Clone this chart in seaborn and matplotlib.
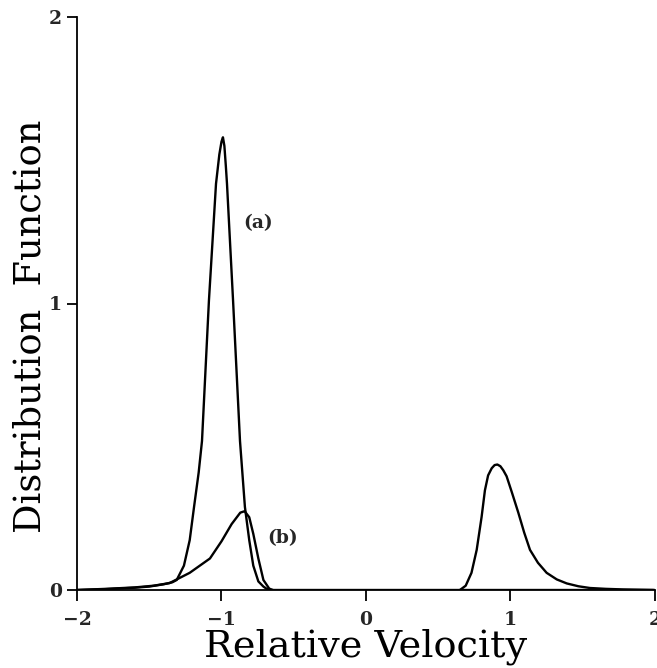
import matplotlib
matplotlib.use("Agg")
import matplotlib.pyplot as plt
import seaborn as sns
import pandas as pd

# Curve (a): narrow peak near -1
a_x = [-2.0, -1.8, -1.6, -1.5, -1.4, -1.34, -1.31, -1.26, -1.22, -1.19, -1.158, -1.135, -1.087, -1.038, -1.015, -1.0, -0.99,
       -0.98, -0.97, -0.962, -0.92, -0.872, -0.838, -0.808, -0.78, -0.745, -0.71, -0.69, -0.66, 2.0]
a_y = [0.0, 0.003, 0.008, 0.012, 0.02, 0.027, 0.035, 0.085, 0.174, 0.29, 0.41, 0.52, 1.01, 1.418, 1.52, 1.565, 1.58,
       1.55, 1.48, 1.418, 1.01, 0.52, 0.29, 0.174, 0.085, 0.03, 0.012, 0.005, 0.0, 0.0]

# Curve (b): broad low peak near -0.84
b_x = [-2.0, -1.8, -1.6, -1.47, -1.36, -1.22, -1.08, -1.0, -0.93, -0.87, -0.84, -0.808, -0.78, -0.745, -0.71, -0.67, -0.645]
b_y = [0.0, 0.004, 0.009, 0.015, 0.024, 0.06, 0.11, 0.17, 0.23, 0.27, 0.275, 0.254, 0.196, 0.11, 0.035, 0.005, 0.0]

# Right peak near +0.9
c_x = [0.65, 0.69, 0.73, 0.766, 0.80, 0.823, 0.845, 0.87, 0.89, 0.909, 0.93, 0.95, 0.973, 1.01, 1.054, 1.095, 1.135,
       1.19, 1.25, 1.32, 1.389, 1.47, 1.55, 1.66, 1.78, 1.99]
c_y = [0.0, 0.015, 0.06, 0.14, 0.255, 0.348, 0.40, 0.425, 0.436, 0.438, 0.432, 0.418, 0.397, 0.34, 0.27, 0.2, 0.14,
       0.095, 0.06, 0.037, 0.023, 0.013, 0.007, 0.004, 0.002, 0.0]

x_ticks = [-2, -1, 0, 1, 2]
y_ticks = [0, 1, 2]

sns.set_style("ticks")
plt.rcParams['font.family'] = ['DejaVu Serif']

fig = plt.figure(figsize=(6.57, 6.68), dpi=100)
ax = fig.add_axes([77/657, 78/668, (655-77)/657, (590-17)/668])

for xs, ys in [(a_x, a_y), (b_x, b_y), (c_x, c_y)]:
    df = pd.DataFrame({"x": xs, "y": ys})
    sns.lineplot(data=df, x="x", y="y", ax=ax, color="black", linewidth=1.7,
                 sort=False, estimator=None)

ax.set_xlim(-2, 2)
ax.set_ylim(0, 2)
ax.set_xticks(x_ticks)
ax.set_yticks(y_ticks)
ax.set_xticklabels(["\u22122", "\u22121", "0", "1", "2"], fontsize=13.5, fontweight="bold")
ax.set_yticklabels(["0", "1", "2"], fontsize=13.5, fontweight="bold")
ax.tick_params(axis="x", direction="out", length=7.8, width=1.3, color="black", pad=7)
ax.tick_params(axis="y", direction="out", length=7.2, width=1.3, color="black", pad=3.5)
for s in ["top", "right"]:
    ax.spines[s].set_visible(False)
for s in ["left", "bottom"]:
    ax.spines[s].set_linewidth(1.3)
    ax.spines[s].set_color("black")

ax.set_xlabel("Relative Velocity", fontsize=27.5, labelpad=0, color="black")
ax.set_ylabel("Distribution  Function", fontsize=26.5, color="black", va="center", ha="center")
ax.yaxis.set_label_coords(-0.08, 0.46)

ax.text(-0.747, 1.28, "(a)", fontsize=13.5, fontweight="bold", ha="center", va="center")
ax.text(-0.58, 0.18, "(b)", fontsize=13.5, fontweight="bold", ha="center", va="center")

fig.savefig("out.png", dpi=100)
